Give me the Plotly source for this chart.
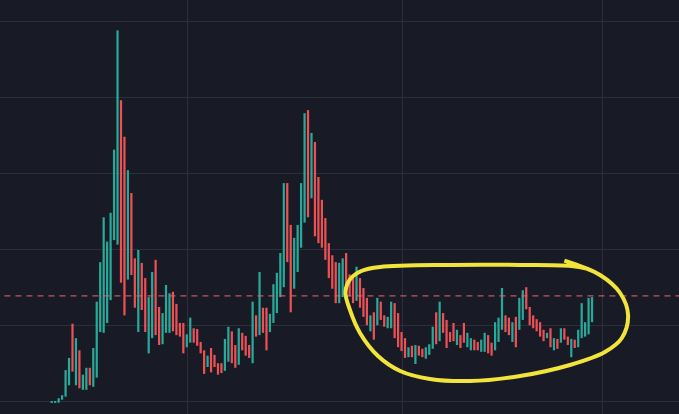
import plotly.graph_objects as go

# Candle index (one per period) and open/close values
opens = [9.9, 9.95, 9.9, 10.3, 10.7, 12.2, 20.3, 12.2, 16.8, 11.6,
         11.6, 14.5, 12.0, 13.2, 19.2, 19.1, 20.4, 23.4, 31.3, 30.7,
         49.7, 44.9, 26.1, 37.5, 28.9, 19.2, 28.3, 26.3, 16.4, 18.4,
         28.7, 22.5, 17.6, 19.1, 19.1, 24.5, 22.9, 20.4, 20.4, 17.2,
         17.8, 19.7, 19.6, 17.9, 16.8, 14.6, 17.1, 16.2, 15.1, 15.1,
         14.1, 15.3, 19.3, 17.5, 14.9, 19.1, 18.7, 17.5, 15.1, 21.4,
         18.8, 22.4, 22.4, 19.2, 20.4, 21.7, 23.8, 25.1, 38.8, 33.3,
         24.9, 27.1, 30.3, 33.6, 48.4, 36.8, 44.2, 39.6, 36.6, 34.2,
         30.9, 29.3, 28.4, 23.0, 23.8, 29.6, 26.8, 26.4, 23.3, 26.3,
         25.0, 23.7, 19.3, 21.8, 20.1, 23.2, 21.4, 19.7, 19.7, 23.0,
         21.7, 19.2, 18.4, 15.9, 17.4, 15.0, 17.4, 17.0, 15.7, 16.2,
         17.0, 21.8, 18.0, 21.7, 20.8, 19.2, 20.4, 17.5, 18.8, 20.4,
         17.2, 16.8, 18.2, 17.9, 16.6, 16.6, 18.8, 17.8, 16.8, 17.9,
         19.5, 21.4, 21.1, 17.9, 21.2, 19.5, 20.8, 25.1, 22.5, 21.4,
         20.9, 20.5, 19.5, 18.4, 19.7, 16.8, 18.3, 17.8, 19.7, 18.6,
         15.9, 18.2, 17.2, 18.4, 18.6, 18.9, 20.5]
closes = [10.0, 10.1, 10.5, 10.9, 14.2, 15.8, 14.0, 18.4, 11.8, 13.6,
          14.5, 12.2, 17.1, 23.2, 28.4, 34.3, 31.1, 34.9, 43.2, 58.9,
          25.7, 21.4, 40.5, 26.7, 22.4, 30.0, 22.1, 19.2, 23.8, 27.1,
          18.8, 17.5, 21.7, 25.4, 24.3, 19.3, 18.8, 18.6, 16.4, 18.9,
          21.1, 17.8, 17.4, 16.4, 13.7, 16.1, 13.9, 14.6, 13.6, 13.8,
          18.3, 19.9, 15.1, 14.5, 19.7, 16.8, 16.1, 15.8, 23.2, 18.6,
          27.1, 19.1, 16.8, 21.6, 25.5, 27.0, 29.6, 38.8, 28.4, 21.8,
          31.6, 33.3, 38.8, 48.0, 34.3, 45.4, 31.8, 30.9, 30.3, 28.7,
          26.3, 24.9, 23.0, 28.3, 28.9, 24.3, 23.9, 23.0, 27.8, 22.4,
          21.2, 20.1, 21.4, 18.2, 23.7, 20.8, 19.9, 21.2, 23.2, 18.4,
          17.2, 16.7, 15.8, 17.2, 15.9, 17.5, 16.1, 15.9, 17.2, 17.6,
          19.9, 17.6, 23.2, 19.1, 17.1, 17.9, 18.0, 19.5, 17.1, 17.8,
          19.1, 18.4, 16.8, 16.8, 18.2, 19.1, 16.4, 16.1, 20.5, 21.1,
          25.0, 19.2, 18.8, 20.5, 17.2, 23.7, 24.7, 22.2, 20.1, 19.7,
          19.3, 18.6, 18.0, 19.1, 17.2, 18.4, 17.0, 19.7, 18.2, 17.5,
          18.3, 17.1, 19.5, 23.0, 20.5, 23.7, 23.8]
periods = list(range(len(opens)))

reference_level = 23.95          # dashed horizontal price line
time_grid = [39.06, 101.41, 159.15]   # vertical grid positions (period units)
price_grid = [10, 20, 30, 40, 50, 60]

# hand-drawn highlight loop (period, price)
loop_x = [148.0, 158.3, 164.1, 166.4, 164.6, 159.7, 149.6, 135.2, 120.8, 109.2,
          100.6, 94.2, 89.0, 86.1, 84.8, 86.2, 89.4, 94.8, 115.0, 135.2, 150.0, 155.0]
loop_y = [28.6, 26.71, 24.34, 21.45, 18.42, 16.58, 14.87, 13.42, 12.76, 13.03,
          14.08, 16.05, 19.08, 22.11, 24.47, 26.18, 27.24, 27.76, 28.03, 28.03, 27.9, 27.5]

UP = "#28aa9b"
DOWN = "#ee5155"
BG = "#181b26"
GRID = "#2b2f3a"

heights = [c - o for o, c in zip(opens, closes)]
colors = [UP if c >= o else DOWN for o, c in zip(opens, closes)]

fig = go.Figure()
fig.add_trace(go.Bar(
    x=periods, y=heights, base=opens, width=0.64,
    marker=dict(color=colors, line=dict(width=0)),
    hoverinfo="skip",
))
fig.add_trace(go.Scatter(
    x=[-20, 190], y=[reference_level, reference_level], mode="lines",
    line=dict(color="rgba(226,96,106,0.85)", width=1.3, dash="6px,5px"),
    hoverinfo="skip",
))
fig.add_trace(go.Scatter(
    x=loop_x, y=loop_y, mode="lines",
    line=dict(color="#f2e43a", width=4, shape="spline", smoothing=1.0),
    hoverinfo="skip",
))

fig.update_layout(
    width=679, height=414,
    margin=dict(l=0, r=0, t=0, b=0),
    paper_bgcolor=BG, plot_bgcolor=BG,
    showlegend=False,
    xaxis=dict(range=[-14.93, 181.1], tickvals=time_grid, showticklabels=False,
               showgrid=True, gridcolor=GRID, gridwidth=1, zeroline=False,
               showline=False, ticks=""),
    yaxis=dict(range=[8.42, 62.89], tickvals=price_grid, showticklabels=False,
               showgrid=True, gridcolor=GRID, gridwidth=1, zeroline=False,
               showline=False, ticks=""),
)

fig.write_html(
    "out.html",
    config={"displayModeBar": False},
    post_script="document.body.style.margin='0';document.body.style.overflow='hidden';document.body.style.background='#181b26';",
)
